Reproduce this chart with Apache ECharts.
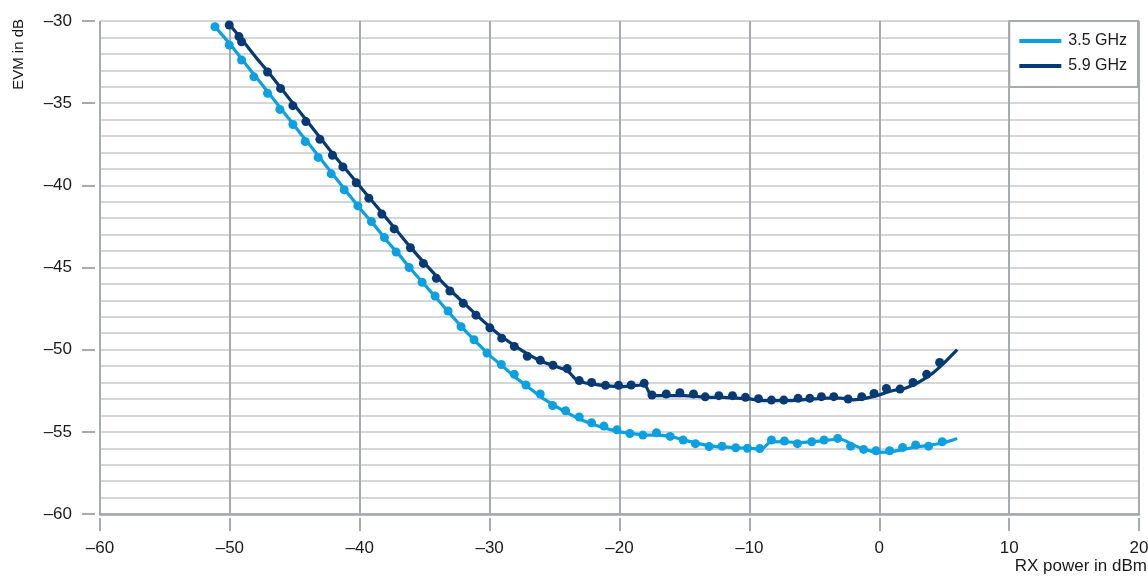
<!DOCTYPE html>
<html>
<head>
<meta charset="utf-8">
<script src="https://cdn.jsdelivr.net/npm/echarts@6/dist/echarts.min.js"></script>
<style>html,body{margin:0;padding:0;background:#fff}#c{width:1148px;height:581px}</style>
</head>
<body>
<div id="c"></div>
<script>
// ---- data ----
const seriesNames = ['3.5 GHz', '5.9 GHz'];
const xLabelText = 'RX power in dBm';
const yLabelText = 'EVM in dB';

// measured points [RX power dBm, EVM dB]
const pts35 = [[-51.15,-30.35],[-50.05,-31.46],[-49.1,-32.37],[-48.15,-33.4],[-47.1,-34.4],[-46.15,-35.38],[-45.15,-36.3],[-44.2,-37.33],[-43.2,-38.3],[-42.2,-39.3],[-41.2,-40.27],[-40.15,-41.25],[-39.1,-42.2],[-38.1,-43.18],[-37.2,-44.06],[-36.2,-45.0],[-35.2,-45.9],[-34.2,-46.74],[-33.2,-47.65],[-32.2,-48.6],[-31.2,-49.4],[-30.2,-50.2],[-29.1,-50.9],[-28.1,-51.5],[-27.2,-52.15],[-26.1,-52.7],[-25.15,-53.4],[-24.15,-53.72],[-23.1,-54.1],[-22.15,-54.45],[-21.2,-54.65],[-20.2,-54.88],[-19.2,-55.1],[-18.2,-55.2],[-17.15,-55.05],[-16.1,-55.28],[-15.1,-55.5],[-14.15,-55.72],[-13.1,-55.9],[-12.1,-55.88],[-11.05,-55.97],[-10.15,-56.0],[-9.2,-56.02],[-8.3,-55.5],[-7.3,-55.56],[-6.3,-55.72],[-5.2,-55.6],[-4.25,-55.5],[-3.2,-55.4],[-2.2,-55.87],[-1.2,-56.07],[-0.25,-56.15],[0.8,-56.15],[1.8,-55.95],[2.8,-55.8],[3.8,-55.87],[4.85,-55.6]];
const pts59 = [[-50.05,-30.24],[-49.3,-30.95],[-49.1,-31.26],[-47.1,-33.1],[-46.1,-34.1],[-45.15,-35.15],[-44.15,-36.12],[-43.07,-37.2],[-42.1,-38.17],[-41.3,-38.88],[-40.27,-39.84],[-39.3,-40.78],[-38.3,-41.75],[-37.35,-42.65],[-36.1,-43.8],[-35.1,-44.75],[-34.1,-45.66],[-33.06,-46.43],[-32.03,-47.18],[-31.05,-47.9],[-29.98,-48.67],[-29.07,-49.3],[-28.1,-49.8],[-27.1,-50.4],[-26.1,-50.65],[-25.12,-50.95],[-24.03,-51.15],[-23.1,-51.88],[-22.15,-52.0],[-21.08,-52.17],[-20.07,-52.17],[-19.1,-52.15],[-18.1,-52.05],[-17.5,-52.76],[-16.4,-52.7],[-15.35,-52.62],[-14.3,-52.7],[-13.4,-52.87],[-12.35,-52.8],[-11.3,-52.8],[-10.3,-52.9],[-9.3,-52.98],[-8.3,-53.07],[-7.35,-53.07],[-6.25,-52.96],[-5.35,-52.96],[-4.45,-52.86],[-3.5,-52.86],[-2.4,-53.0],[-1.35,-52.86],[-0.4,-52.66],[0.55,-52.36],[1.6,-52.4],[2.6,-52.0],[3.65,-51.5],[4.65,-50.78]];

// fitted curves [RX power dBm, EVM dB]
const fit35 = [[-51.2,-30.3],[-50,-31.4],[-49,-32.4],[-48,-33.4],[-47,-34.4],[-46,-35.4],[-45,-36.4],[-44,-37.4],[-43,-38.4],[-42,-39.4],[-41,-40.4],[-40,-41.4],[-39,-42.3],[-38,-43.3],[-37,-44.2],[-36,-45.15],[-35,-46.05],[-34,-46.95],[-33,-47.85],[-32,-48.75],[-31,-49.55],[-30,-50.35],[-29,-51.0],[-28,-51.7],[-27,-52.3],[-26,-52.9],[-25,-53.4],[-24,-53.85],[-23,-54.25],[-22,-54.55],[-21,-54.8],[-20,-55.0],[-19,-55.1],[-18,-55.2],[-17,-55.2],[-16,-55.3],[-15,-55.5],[-14,-55.7],[-13,-55.85],[-12,-55.92],[-11,-55.97],[-10,-56.0],[-9.1,-56.05],[-8.3,-55.6],[-7,-55.62],[-6,-55.65],[-5,-55.6],[-4,-55.5],[-3,-55.45],[-2,-55.8],[-1,-56.1],[0,-56.25],[1,-56.2],[2,-56.05],[3,-55.9],[4,-55.8],[5,-55.65],[6,-55.4]];
const fit59 = [[-50.05,-30.2],[-49,-31.2],[-48,-32.2],[-47,-33.15],[-46,-34.15],[-45,-35.15],[-44,-36.15],[-43,-37.15],[-42,-38.15],[-41,-39.1],[-40,-40.05],[-39,-41.0],[-38,-41.95],[-37,-42.9],[-36,-43.85],[-35,-44.75],[-34,-45.6],[-33,-46.4],[-32,-47.15],[-31,-47.9],[-30,-48.6],[-29,-49.25],[-28,-49.8],[-27,-50.3],[-26,-50.7],[-25,-51.0],[-24,-51.3],[-23.2,-51.9],[-22,-52.1],[-21,-52.2],[-20,-52.25],[-19,-52.2],[-18.1,-52.15],[-17.5,-52.8],[-16,-52.8],[-15,-52.8],[-14,-52.85],[-13,-52.9],[-12,-52.9],[-11,-52.95],[-10,-53.0],[-9,-53.1],[-8,-53.1],[-7,-53.1],[-6,-53.05],[-5,-53.0],[-4,-52.95],[-3,-52.95],[-2,-53.05],[-1,-52.95],[0,-52.75],[1,-52.5],[2,-52.35],[3,-52.0],[4,-51.5],[5,-50.8],[6,-50.0]];

const xMin = -60, xMax = 20, xStep = 10;
const yMin = -60, yMax = -30, yStep = 5;

// ---- style ----
const C35 = '#0aa0e2';
const C59 = '#063a75';
const FONT = '"Liberation Sans", Arial, sans-serif';
const TXT = '#1a1a1a';
const majorGrid = '#a7abaf';
const minorGrid = '#c6c9cc';
const minusFmt = v => String(v).replace('-', '\u2013');

const chart = echarts.init(document.getElementById('c'), null, {renderer: 'canvas'});
chart.setOption({
  animation: false,
  backgroundColor: '#fff',
  grid: {left: 100, right: 9, top: 21, bottom: 67, containLabel: false, outerBoundsMode: 'none'},
  legend: {
    orient: 'vertical', right: 10, top: 21,
    backgroundColor: '#fff', borderColor: majorGrid, borderWidth: 2,
    padding: [12, 11, 13, 10], itemGap: 9,
    itemWidth: 42, itemHeight: 4,
    textStyle: {fontFamily: FONT, fontSize: 16, color: TXT, padding: [0,0,0,2]},
    data: [
      {name: seriesNames[0], icon: 'rect', itemStyle: {color: C35}},
      {name: seriesNames[1], icon: 'rect', itemStyle: {color: C59}}
    ]
  },
  xAxis: [{
    type: 'value', min: xMin, max: xMax, interval: xStep, offset: 4,
    axisLine: {show: false, onZero: false},
    axisTick: {show: true, length: 13, lineStyle: {color: majorGrid, width: 2}},
    axisLabel: {fontFamily: FONT, fontSize: 17, color: TXT, margin: 22, formatter: minusFmt},
    splitLine: {show: true, lineStyle: {color: majorGrid, width: 2}},
    name: xLabelText, nameLocation: 'end', nameGap: 8,
    nameTextStyle: {fontFamily: FONT, fontSize: 17, color: TXT, align: 'right', verticalAlign: 'top', padding: [40, 0, 0, 0]}
  }, {
    type: 'value', min: xMin, max: xMax, position: 'bottom', offset: 0,
    axisLine: {show: true, onZero: false, lineStyle: {color: '#a2a6aa', width: 2.5}},
    axisTick: {show: false}, axisLabel: {show: false}, splitLine: {show: false}
  }],
  yAxis: {
    type: 'value', min: yMin, max: yMax, interval: yStep, offset: 5, position: 'left',
    axisLine: {show: false, onZero: false},
    axisTick: {show: true, length: 13, lineStyle: {color: majorGrid, width: 2}},
    axisLabel: {fontFamily: FONT, fontSize: 17, color: TXT, margin: 23, formatter: minusFmt},
    splitLine: {show: true, lineStyle: {color: minorGrid, width: 1.5}},
    minorTick: {show: false, splitNumber: 5},
    minorSplitLine: {show: true, lineStyle: {color: minorGrid, width: 1.5}},
    name: yLabelText, nameLocation: 'end', nameGap: 2, nameRotate: 90,
    nameTextStyle: {fontFamily: FONT, fontSize: 15, color: TXT, align: 'right', verticalAlign: 'bottom', padding: [0, 0, 69, 0]}
  },
  series: [
    {name: seriesNames[0], type: 'line', data: fit35, smooth: 0.3, showSymbol: false, symbol: 'none',
     lineStyle: {color: C35, width: 3.2}, itemStyle: {color: C35}, z: 3},
    {name: seriesNames[1], type: 'line', data: fit59, smooth: 0.3, showSymbol: false, symbol: 'none',
     lineStyle: {color: C59, width: 3.2}, itemStyle: {color: C59}, z: 3},
    {name: seriesNames[0], type: 'scatter', data: pts35, symbolSize: 9, itemStyle: {color: C35, opacity: 1}, z: 4},
    {name: seriesNames[1], type: 'scatter', data: pts59, symbolSize: 9, itemStyle: {color: C59, opacity: 1}, z: 4}
  ]
});
</script>
</body>
</html>
